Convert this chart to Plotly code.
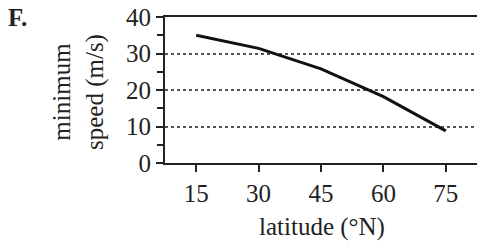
import plotly.graph_objects as go

latitude = [15, 30, 45, 60, 75]
min_speed = [35.0, 31.4, 25.8, 18.2, 8.8]
x_ticks = [15, 30, 45, 60, 75]
y_ticks = [0, 10, 20, 30, 40]

FONT = "Liberation Serif"
FS = 25

fig = go.Figure()
fig.add_trace(go.Scatter(x=latitude, y=min_speed, mode="lines",
                         line=dict(color="#111111", width=3)))

fig.update_layout(
    width=478, height=244,
    margin=dict(l=165, r=1, t=17, b=81),
    paper_bgcolor="white", plot_bgcolor="white",
    showlegend=False,
    font=dict(family=FONT, size=FS, color="#222222"),
    xaxis=dict(range=[7.5, 82.5], tickvals=x_ticks, ticks="outside", ticklen=7,
               tickwidth=1.5, tickcolor="#222222", showline=True, linecolor="#222222",
               linewidth=2, mirror=True, showgrid=False, zeroline=False,
               tickfont=dict(family=FONT, size=FS)),
    yaxis=dict(range=[0, 40], tickvals=y_ticks, ticks="outside", ticklen=7,
               tickwidth=1.5, tickcolor="#222222", showline=True, linecolor="#222222",
               linewidth=2, showgrid=True, gridcolor="#555555", griddash="dot",
               gridwidth=1.5, zeroline=False,
               minor=dict(dtick=5, ticks="outside", ticklen=6, tickwidth=1.5,
                          tickcolor="#222222", showgrid=False),
               tickfont=dict(family=FONT, size=FS)),
    annotations=[
        dict(text="<b>F.</b>", xref="paper", yref="paper", x=(6-165)/312, y=1.10,
             xanchor="left", yanchor="top", showarrow=False,
             font=dict(family=FONT, size=FS, color="#222222")),
        dict(text="minimum<br>speed (m/s)", xref="paper", yref="paper",
             x=(78-165)/312, y=(163-92)/146, xanchor="center", yanchor="middle",
             textangle=-90, showarrow=False,
             font=dict(family=FONT, size=FS, color="#222222")),
        dict(text="latitude (°N)", xref="paper", yref="paper",
             x=(322-165)/312, y=-(227-163)/146, xanchor="center", yanchor="middle",
             showarrow=False, font=dict(family=FONT, size=FS, color="#222222")),
    ],
)

fig.write_html("out.html", config={"displayModeBar": False},
               post_script="document.body.style.margin='0';document.body.style.overflow='hidden';")
